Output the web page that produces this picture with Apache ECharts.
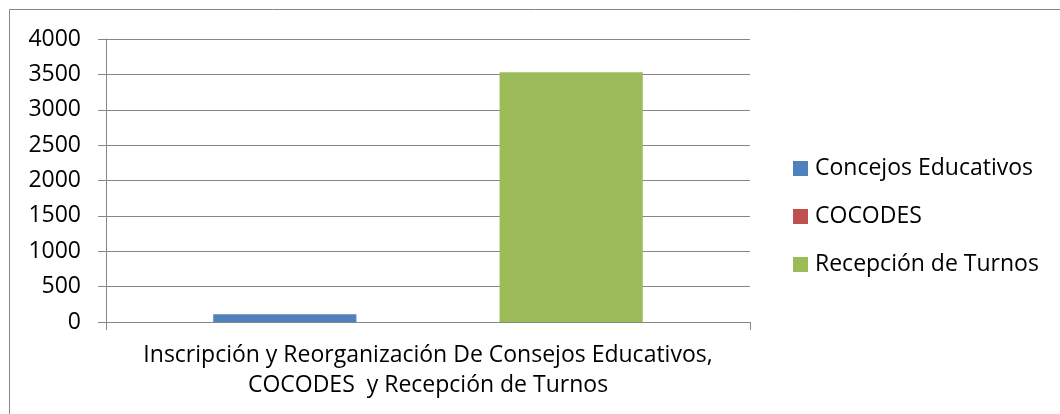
<!DOCTYPE html>
<html>
<head>
<meta charset="utf-8">
<script src="https://cdn.jsdelivr.net/npm/echarts@6/dist/echarts.min.js"></script>
<style>
html,body{margin:0;padding:0;background:#fff;}
#chart{width:1060px;height:414px;}
</style>
</head>
<body>
<div id="chart"></div>
<script>
const categories = ['Inscripción y Reorganización De Consejos Educativos,\nCOCODES  y Recepción de Turnos'];
const seriesNames = ['Concejos Educativos', 'COCODES', 'Recepción de Turnos'];
const concejosValues = [110];
const cocodesValues = [0];
const turnosValues = [3530];
const yTicks = { min: 0, max: 4000, interval: 500 };

const colors = ['#4F81BD', '#C0504D', '#9BBB59'];
const FONT = 'Open Sans';
const chart = echarts.init(document.getElementById('chart'), null, { renderer: 'canvas' });
const dataSets = [concejosValues, cocodesValues, turnosValues];

chart.setOption({
  animation: false,
  backgroundColor: '#fff',
  textStyle: { fontFamily: FONT },
  graphic: [{
    type: 'rect',
    shape: { x: 9.5, y: 9.5, width: 1200, height: 800 },
    style: { fill: 'none', stroke: '#868686', lineWidth: 1 },
    silent: true
  }],
  grid: { left: 106, top: 39, right: 310, bottom: 92, containLabel: false },
  legend: {
    orient: 'vertical',
    left: 793,
    top: 157,
    padding: 0,
    itemWidth: 15,
    itemHeight: 15,
    itemGap: 25,
    icon: 'rect',
    textStyle: { fontFamily: FONT, fontSize: 23, color: '#000', padding: [0, 0, 0, 2] },
    data: seriesNames
  },
  xAxis: {
    type: 'category',
    data: categories,
    axisLine: { show: true, lineStyle: { color: '#868686', width: 1 } },
    axisTick: { show: true, length: 8, lineStyle: { color: '#868686' } },
    axisLabel: { fontFamily: FONT, fontSize: 23, color: '#000', lineHeight: 30, margin: 18 },
    splitLine: { show: false }
  },
  yAxis: {
    type: 'value',
    min: yTicks.min,
    max: yTicks.max,
    interval: yTicks.interval,
    axisLine: { show: true, lineStyle: { color: '#868686', width: 1 } },
    axisTick: { show: true, length: 8, lineStyle: { color: '#868686' } },
    axisLabel: { fontFamily: FONT, fontSize: 23, color: '#000', margin: 25, formatter: v => String(v) },
    splitLine: { show: true, lineStyle: { color: '#868686', width: 1 } }
  },
  series: seriesNames.map((name, i) => ({
    name: name,
    type: 'bar',
    data: dataSets[i],
    itemStyle: { color: colors[i] },
    barGap: '0%',
    barCategoryGap: '33.3%'
  }))
});
</script>
</body>
</html>
